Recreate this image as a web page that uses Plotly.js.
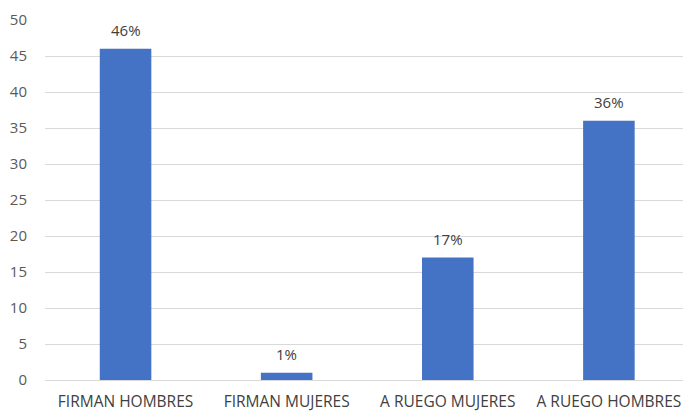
<!DOCTYPE html>
<html><head><meta charset="utf-8">
<script src="https://cdn.plot.ly/plotly-3.0.1.min.js"></script>
<style>html,body{margin:0;padding:0;background:#fff}#chart{width:685px;height:411px}</style>
</head><body><div id="chart"></div>
<script>
const categories = ["FIRMAN HOMBRES", "FIRMAN MUJERES", "A RUEGO MUJERES", "A RUEGO HOMBRES"];
const values = [46, 1, 17, 36];
const valueLabels = ["46%", "1%", "17%", "36%"];
const yTicks = [0, 5, 10, 15, 20, 25, 30, 35, 40, 45, 50];

const annotations = categories.map((c, i) => ({
  x: c, y: values[i], xref: 'x', yref: 'y',
  text: valueLabels[i], showarrow: false,
  yanchor: 'bottom', yshift: 7,
  font: {family: 'Open Sans, sans-serif', size: 15, color: '#404040'}
}));

Plotly.newPlot('chart', [{
  type: 'bar',
  x: categories,
  y: values,
  marker: {color: '#4472C4'},
  hoverinfo: 'none'
}], {
  width: 685, height: 411,
  margin: {l: 45, r: 2, t: 20, b: 31},
  paper_bgcolor: '#fff', plot_bgcolor: '#fff',
  bargap: 0.68,
  showlegend: false,
  annotations: annotations,
  font: {family: 'Open Sans, sans-serif', size: 14, color: '#595959'},
  xaxis: {
    type: 'category',
    range: [-0.5, 3.46],
    showgrid: false, zeroline: false,
    showline: false,
    ticks: '',
    ticklabelstandoff: 10,
    tickfont: {size: 15.5, color: '#404040'},
    fixedrange: true
  },
  yaxis: {
    range: [0, 50],
    tickvals: yTicks,
    ticktext: yTicks.map(String),
    showgrid: true, gridcolor: '#d9d9d9', gridwidth: 1,
    zeroline: true, zerolinecolor: '#d9d9d9', zerolinewidth: 1,
    showline: false, ticks: '',
    ticklabelstandoff: 17,
    tickfont: {size: 15, color: '#595959'},
    fixedrange: true
  }
}, {staticPlot: true, displayModeBar: false});
</script></body></html>
